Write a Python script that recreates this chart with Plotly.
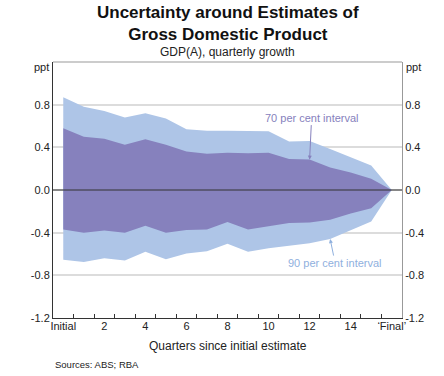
import plotly.graph_objects as go

categories = ["Initial"] + [str(i) for i in range(1, 16)] + ["\u2018Final\u2019"]
tick_labels = ["Initial", "2", "4", "6", "8", "10", "12", "14", "\u2018Final\u2019"]

upper90 = [0.87, 0.78, 0.74, 0.68, 0.72, 0.67, 0.57, 0.555, 0.555, 0.555, 0.55, 0.455, 0.46, 0.385, 0.305, 0.23, 0.0]
upper70 = [0.58, 0.50, 0.48, 0.425, 0.475, 0.425, 0.36, 0.34, 0.35, 0.345, 0.35, 0.29, 0.285, 0.21, 0.165, 0.105, 0.0]
lower70 = [-0.37, -0.40, -0.38, -0.40, -0.335, -0.40, -0.375, -0.37, -0.30, -0.37, -0.34, -0.31, -0.305, -0.28, -0.22, -0.17, 0.0]
lower90 = [-0.655, -0.675, -0.64, -0.66, -0.58, -0.65, -0.595, -0.575, -0.505, -0.58, -0.545, -0.525, -0.50, -0.46, -0.375, -0.295, 0.0]

y_ticks = [-1.2, -0.8, -0.4, 0.0, 0.4, 0.8, 1.2]
y_ticktext = ["-1.2", "-0.8", "-0.4", "0.0", "0.4", "0.8", ""]

LIGHT = "#aec5e7"
PURPLE = "#8681bd"
BLUE_TXT = "#8fb0de"
FONT = "Liberation Sans, Arial, sans-serif"

xs = list(range(len(categories)))
tick_pos = [xs[i] for i in range(0, len(categories), 2)]
boundaries = [x + 0.5 for x in xs[:-1]]

fig = go.Figure()
fig.add_trace(go.Scatter(x=xs, y=lower90, mode="lines", line=dict(width=0, color=LIGHT),
                         hoverinfo="skip", showlegend=False))
fig.add_trace(go.Scatter(x=xs, y=upper90, mode="lines", line=dict(width=0, color=LIGHT),
                         fill="tonexty", fillcolor=LIGHT, showlegend=False))
fig.add_trace(go.Scatter(x=xs, y=lower70, mode="lines", line=dict(width=0, color=PURPLE),
                         hoverinfo="skip", showlegend=False))
fig.add_trace(go.Scatter(x=xs, y=upper70, mode="lines", line=dict(width=0, color=PURPLE),
                         fill="tonexty", fillcolor=PURPLE, showlegend=False))
# invisible trace on label axis / right axis
fig.add_trace(go.Scatter(x=xs, y=upper70, xaxis="x2", yaxis="y2", mode="lines",
                         line=dict(width=0), opacity=0, hoverinfo="skip", showlegend=False))

xrange = [-0.5, len(categories) - 0.5]

fig.update_layout(
    width=444, height=376,
    margin=dict(l=53, r=42, t=62, b=58, autoexpand=False),
    paper_bgcolor="white", plot_bgcolor="white",
    font=dict(family=FONT, size=11, color="#222"),
    xaxis=dict(range=xrange, tickmode="array", tickvals=boundaries,
               showticklabels=False, ticks="inside", ticklen=4, tickcolor="#333",
               tickwidth=1, showgrid=False, zeroline=False,
               showline=True, linecolor="#333", linewidth=1, automargin=False),
    xaxis2=dict(range=xrange, overlaying="x", side="bottom", anchor="y", tickmode="array",
                tickvals=tick_pos, ticktext=tick_labels, ticks="", showgrid=False,
                zeroline=False, showline=False, automargin=False,
                tickfont=dict(size=11, color="#222")),
    yaxis=dict(range=[-1.2, 1.2], tickmode="array", tickvals=y_ticks, ticktext=y_ticktext,
               ticks="", showgrid=True, gridcolor="#dcdcdc", gridwidth=1.5, zeroline=False,
               showline=True, linecolor="#333", linewidth=1, automargin=False),
    yaxis2=dict(range=[-1.2, 1.2], tickmode="array", tickvals=y_ticks, ticktext=y_ticktext,
                overlaying="y", side="right", anchor="x", ticks="", showgrid=False,
                zeroline=False, showline=True, linecolor="#999", linewidth=1,
                automargin=False),
    shapes=[
        dict(type="line", xref="paper", yref="y", x0=0, x1=1, y0=0, y1=0,
             line=dict(color="#333", width=1), layer="above"),
        dict(type="line", xref="paper", yref="paper", x0=0, x1=1, y0=1, y1=1,
             line=dict(color="#999", width=1), layer="above"),
    ],
    annotations=[
        dict(text="<b>Uncertainty around Estimates of<br>Gross Domestic Product</b>",
             xref="paper", yref="paper", x=0.5, y=1, yshift=61, yanchor="top",
             showarrow=False, font=dict(size=17, color="#111")),
        dict(text="GDP(A), quarterly growth", xref="paper", yref="paper", x=0.5, y=1,
             yshift=19, yanchor="top", showarrow=False, font=dict(size=12, color="#222")),
        dict(text="ppt", xref="paper", yref="y", x=0, y=1.2, xanchor="right", xshift=-2,
             yshift=-5, showarrow=False, font=dict(size=11, color="#222")),
        dict(text="ppt", xref="paper", yref="y", x=1, y=1.2, xanchor="left", xshift=2,
             yshift=-5, showarrow=False, font=dict(size=11, color="#222")),
        dict(text="Quarters since initial estimate", xref="paper", yref="paper", x=0.5, y=0,
             yanchor="middle", yshift=-28, showarrow=False, font=dict(size=12, color="#222")),
        dict(text="Sources: ABS; RBA", xref="paper", yref="paper", x=0, y=0, xanchor="left",
             yanchor="middle", yshift=-46, xshift=0, showarrow=False,
             font=dict(size=9.5, color="#222")),
        dict(text="70 per cent interval", x=12, y=upper70[12], xref="x", yref="y",
             ax=2, ay=-42, showarrow=True, arrowhead=2, arrowsize=0.8, arrowwidth=1,
             arrowcolor=PURPLE, font=dict(size=11, color=PURPLE)),
        dict(text="90 per cent interval", x=13, y=lower90[13], xref="x", yref="y",
             ax=5, ay=24, showarrow=True, arrowhead=2, arrowsize=0.8, arrowwidth=1,
             arrowcolor=BLUE_TXT, standoff=0, font=dict(size=11, color=BLUE_TXT)),
    ],
)

fig.write_html("out.html", config={"displayModeBar": False},
               post_script="document.body.style.margin='0';")
